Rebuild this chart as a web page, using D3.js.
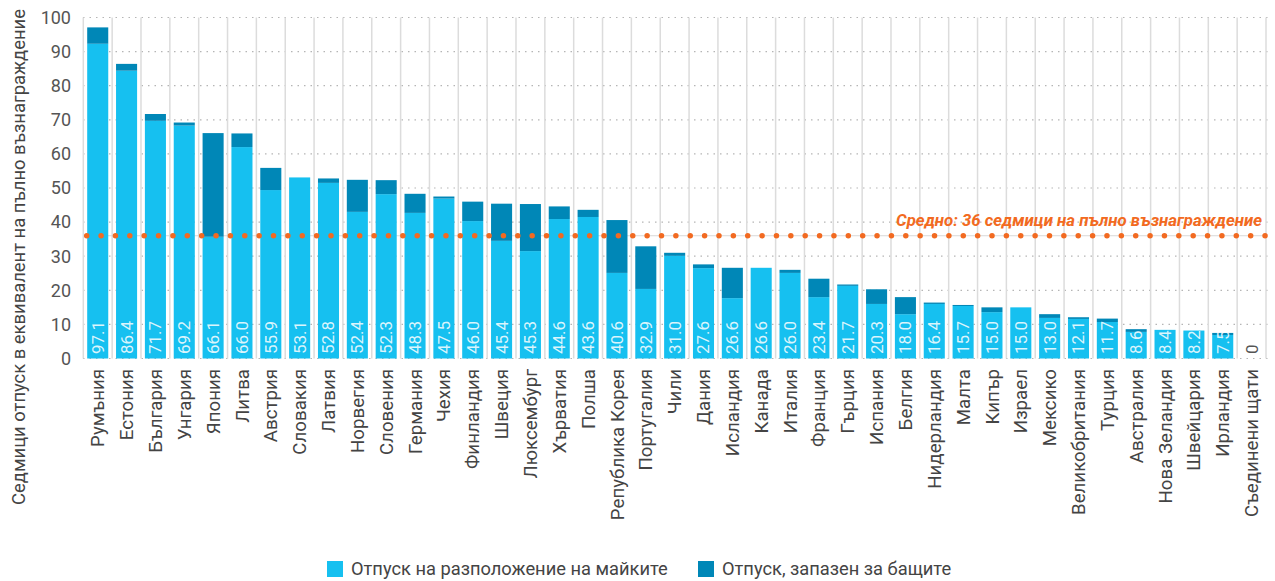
<!DOCTYPE html>
<html>
<head>
<meta charset="utf-8">
<script src="https://cdn.jsdelivr.net/npm/d3@7"></script>
<style>
  body { margin: 0; background: #fff; }
  svg { font-family: Roboto, "Noto Sans", sans-serif; display: block; }
</style>
</head>
<body>
<div id="chart"></div>
<script>
// values (weeks of full-rate-equivalent leave)
const countries = ['Румъния','Естония','България','Унгария','Япония','Литва','Австрия','Словакия','Латвия','Норвегия','Словения','Германия','Чехия','Финландия','Швеция','Люксембург','Хърватия','Полша','Република Корея','Португалия','Чили','Дания','Исландия','Канада','Италия','Франция','Гърция','Испания','Белгия','Нидерландия','Малта','Кипър','Израел','Мексико','Великобритания','Турция','Австралия','Нова Зеландия','Швейцария','Ирландия','Съединени щати'];
const totals = [97.1, 86.4, 71.7, 69.2, 66.1, 66.0, 55.9, 53.1, 52.8, 52.4, 52.3, 48.3, 47.5, 46.0, 45.4, 45.3, 44.6, 43.6, 40.6, 32.9, 31.0, 27.6, 26.6, 26.6, 26.0, 23.4, 21.7, 20.3, 18.0, 16.4, 15.7, 15.0, 15.0, 13.0, 12.1, 11.7, 8.6, 8.4, 8.2, 7.5, 0];
const mothers = [92.3, 84.4, 69.7, 68.3, 35.7, 62.0, 49.4, 53.1, 51.5, 43.0, 48.2, 42.7, 46.9, 40.3, 34.5, 31.5, 40.9, 41.5, 25.1, 20.4, 30.1, 26.5, 17.7, 26.6, 25.1, 18.0, 21.3, 16.0, 13.0, 16.0, 15.4, 13.6, 15.0, 11.9, 11.6, 10.7, 7.8, 8.4, 8.2, 6.9, 0];
const fathers = [4.8, 2.0, 2.0, 0.9, 30.4, 4.0, 6.5, 0, 1.3, 9.4, 4.1, 5.6, 0.6, 5.7, 10.9, 13.8, 3.7, 2.1, 15.5, 12.5, 0.9, 1.1, 8.9, 0, 0.9, 5.4, 0.4, 4.3, 5.0, 0.4, 0.3, 1.4, 0, 1.1, 0.5, 1.0, 0.8, 0, 0, 0.6, 0];
const average = 36;
const yTicks = [0, 10, 20, 30, 40, 50, 60, 70, 80, 90, 100];
const seriesNames = ['Отпуск на разположение на майките', 'Отпуск, запазен за бащите'];

const colors = { mother: '#16c0f0', father: '#0087b7', avg: '#f26a21' };
const width = 1275, height = 581;

const svg = d3.select('#chart').append('svg')
  .attr('width', width).attr('height', height);

const x = d3.scaleBand()
  .domain(countries)
  .range([83.3, 1266])
  .paddingInner(0.27)
  .paddingOuter(0.135);

const y = d3.scaleLinear()
  .domain([0, 100])
  .range([358.5, 17.5]);

// horizontal dotted grid
svg.append('g')
  .selectAll('line')
  .data(yTicks)
  .join('line')
    .attr('x1', 83).attr('x2', 1270)
    .attr('y1', d => y(d)).attr('y2', d => y(d))
    .attr('stroke', '#b5b5b5')
    .attr('stroke-width', 1.2)
    .attr('stroke-dasharray', '1.5 5');

// vertical separators between categories
const step = x.step();
svg.append('g')
  .selectAll('line')
  .data(d3.range(countries.length + 1))
  .join('line')
    .attr('x1', i => x.range()[0] + i * step)
    .attr('x2', i => x.range()[0] + i * step)
    .attr('y1', y(100)).attr('y2', y(0))
    .attr('stroke', '#dcdcdc')
    .attr('stroke-width', 1.5);

// y tick labels
svg.append('g')
  .selectAll('text')
  .data(yTicks)
  .join('text')
    .attr('x', 71)
    .attr('y', d => y(d))
    .attr('dy', '0.35em')
    .attr('text-anchor', 'end')
    .attr('font-size', 18)
    .attr('fill', '#555')
    .text(d => d);

// y title
svg.append('text')
  .attr('transform', 'translate(25,257) rotate(-90)')
  .attr('text-anchor', 'middle')
  .attr('font-size', 18.4)
  .attr('fill', '#444')
  .text('Седмици отпуск в еквивалент на пълно възнаграждение');

// faint line under average dots
svg.append('line')
  .attr('x1', 83).attr('x2', 1266)
  .attr('y1', y(average)).attr('y2', y(average))
  .attr('stroke', '#d8d8d8')
  .attr('stroke-width', 1);

// stacked bars
const rows = countries.map((c, i) => ({ country: c, mother: mothers[i], father: fathers[i], total: totals[i] }));
const stack = d3.stack().keys(['mother', 'father'])(rows);

svg.append('g')
  .selectAll('g')
  .data(stack)
  .join('g')
    .attr('fill', d => colors[d.key])
  .selectAll('rect')
  .data(d => d)
  .join('rect')
    .attr('x', d => x(d.data.country))
    .attr('width', x.bandwidth())
    .attr('y', d => y(d[1]))
    .attr('height', d => y(d[0]) - y(d[1]));

// average dots
svg.append('line')
  .attr('x1', 86.7).attr('x2', 1266)
  .attr('y1', y(average)).attr('y2', y(average))
  .attr('stroke', colors.avg)
  .attr('stroke-width', 5.5)
  .attr('stroke-linecap', 'round')
  .attr('stroke-dasharray', '0 14.37');

svg.append('text')
  .attr('x', 1262)
  .attr('y', y(average) - 10)
  .attr('text-anchor', 'end')
  .attr('font-size', 16.8)
  .attr('font-weight', 'bold')
  .attr('font-style', 'italic')
  .attr('fill', colors.avg)
  .text('Средно: ' + average + ' седмици на пълно възнаграждение');

// value labels inside bars
svg.append('g')
  .selectAll('text')
  .data(rows)
  .join('text')
    .attr('transform', d => `translate(${x(d.country) + x.bandwidth() / 2},354) rotate(-90)`)
    .attr('dy', '0.35em')
    .attr('text-anchor', 'start')
    .attr('font-size', 17)
    .attr('fill', d => d.total > 0 ? 'rgba(255,255,255,0.85)' : '#555')
    .text(d => d.total > 0 ? d.total.toFixed(1) : '0');

// country labels
svg.append('g')
  .selectAll('text')
  .data(countries)
  .join('text')
    .attr('transform', d => `translate(${x(d) + x.bandwidth() / 2},369) rotate(-90)`)
    .attr('dy', '0.35em')
    .attr('text-anchor', 'end')
    .attr('font-size', 18.7)
    .attr('fill', '#444')
    .text(d => d);

// legend
const legend = svg.append('g').attr('transform', 'translate(327,561)');
const items = [{ name: seriesNames[0], color: colors.mother, x: 0 }, { name: seriesNames[1], color: colors.father, x: 371 }];
const li = legend.selectAll('g').data(items).join('g')
  .attr('transform', d => `translate(${d.x},0)`);
li.append('rect')
  .attr('width', 16).attr('height', 16)
  .attr('fill', d => d.color);
li.append('text')
  .attr('x', 24).attr('y', 8)
  .attr('dy', '0.35em')
  .attr('font-size', 18.3)
  .attr('fill', '#444')
  .text(d => d.name);
</script>
</body>
</html>
